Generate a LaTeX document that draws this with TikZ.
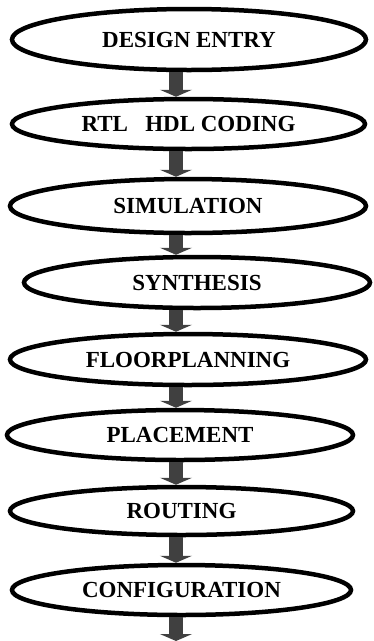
\documentclass[tikz,border=0pt]{standalone}
\usepackage{fontspec}
\setmainfont{Liberation Serif}
\usetikzlibrary{arrows.meta,shapes.geometric}

\begin{document}
\begin{tikzpicture}[x=1pt, y=-1pt,
  stage/.style={draw, ellipse, line width=4.5pt, inner sep=0pt, font=\fontsize{23}{26}\selectfont\bfseries},
  flow/.style={line width=14pt, draw=black!75, -{Triangle[width=32pt,length=7pt]}}]
 \useasboundingbox (0,0) rectangle (374,641);
 \coordinate (axis) at (176,0);
 \coordinate (out) at (176,641);

 \node (entry) [stage, minimum width=354pt, minimum height=61pt] at (189,39.5) {DESIGN ENTRY};
 \node (rtl) [stage, minimum width=353pt, minimum height=50pt] at (188.5,124) {RTL\hspace{0.75em}HDL CODING};
 \node (sim) [stage, minimum width=356pt, minimum height=54pt] at (188,206) {SIMULATION};
 \node (synth) [stage, minimum width=346pt, minimum height=51pt] at (197,282.5) {SYNTHESIS};
 \node (floor) [stage, minimum width=356pt, minimum height=51pt] at (188,359.5) {FLOORPLANNING};
 \node (place) [stage, minimum width=346pt, minimum height=50pt] at (180,435) {PLACEMENT};
 \node (route) [stage, minimum width=343pt, minimum height=48pt] at (181.5,511) {ROUTING};
 \node (config) [stage, minimum width=339pt, minimum height=50pt] at (181.5,590) {CONFIGURATION};

 \draw[flow] (entry.south -| axis) -- (rtl.north -| axis);
 \draw[flow] (rtl.south -| axis) -- (sim.north -| axis);
 \draw[flow] (sim.south -| axis) -- (synth.north -| axis);
 \draw[flow] (synth.south -| axis) -- (floor.north -| axis);
 \draw[flow] (floor.south -| axis) -- (place.north -| axis);
 \draw[flow] (place.south -| axis) -- (route.north -| axis);
 \draw[flow] (route.south -| axis) -- (config.north -| axis);
 \draw[flow] (config.south -| axis) -- (out);
\end{tikzpicture}
\end{document}
